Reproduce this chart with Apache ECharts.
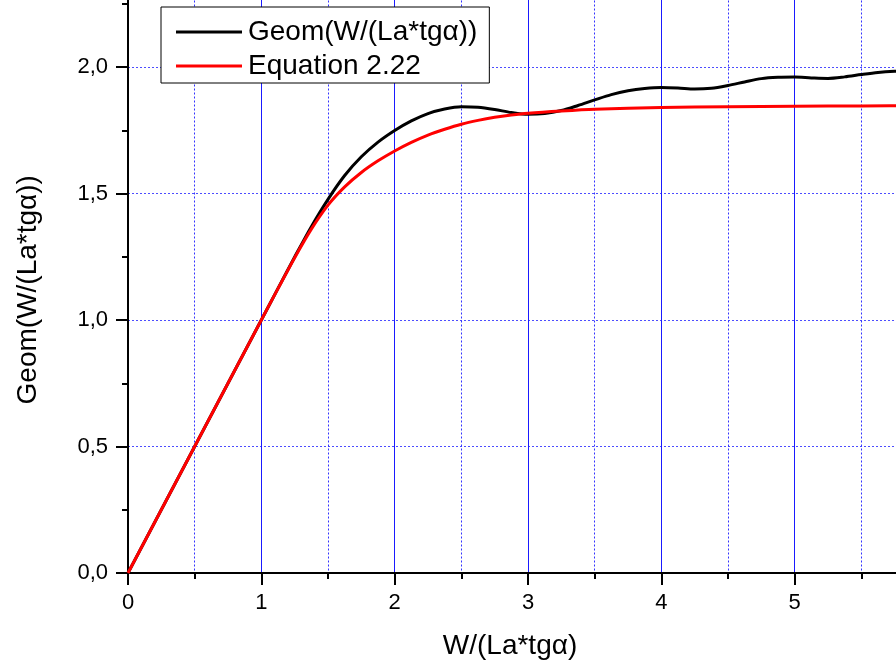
<!DOCTYPE html>
<html>
<head>
<meta charset="utf-8">
<script src="https://cdn.jsdelivr.net/npm/echarts@6/dist/echarts.min.js"></script>
<style>
html,body{margin:0;padding:0;background:#fff;}
#chart{width:896px;height:668px;}
</style>
</head>
<body>
<div id="chart"></div>
<script>
// Data
const geomX = [0, 0.5, 1.0, 1.125, 1.25, 1.375, 1.5, 1.625, 1.75, 1.875, 2.0, 2.125, 2.25, 2.375, 2.5, 2.625, 2.75, 2.875, 3.0, 3.125, 3.25, 3.375, 3.5, 3.625, 3.75, 3.875, 4.0, 4.125, 4.25, 4.375, 4.5, 4.625, 4.75, 4.875, 5.0, 5.125, 5.25, 5.375, 5.5, 5.625, 5.75, 6.0];
const geomY = [0, 0.5, 1.0, 1.125, 1.249, 1.369, 1.477, 1.571, 1.645, 1.703, 1.749, 1.787, 1.816, 1.834, 1.843, 1.841, 1.832, 1.820, 1.813, 1.816, 1.828, 1.848, 1.870, 1.891, 1.906, 1.915, 1.919, 1.917, 1.913, 1.916, 1.927, 1.941, 1.954, 1.959, 1.960, 1.957, 1.955, 1.961, 1.970, 1.978, 1.983, 1.990];
const eqX = [0, 0.5, 1.0, 1.125, 1.25, 1.375, 1.5, 1.625, 1.75, 1.875, 2.0, 2.125, 2.25, 2.375, 2.5, 2.625, 2.75, 2.875, 3.0, 3.25, 3.5, 4.0, 4.5, 5.0, 5.5, 6.0];
const eqY = [0, 0.5, 1.0, 1.124, 1.246, 1.359, 1.454, 1.526, 1.583, 1.629, 1.668, 1.702, 1.731, 1.754, 1.774, 1.789, 1.801, 1.810, 1.817, 1.826, 1.833, 1.840, 1.843, 1.845, 1.846, 1.847];
const seriesNames = ['Geom(W/(La*tgα))', 'Equation 2.22'];
const xTitle = 'W/(La*tgα)';
const yTitle = 'Geom(W/(La*tgα))';

const FONT = '"Liberation Sans", Arial, sans-serif';
const pairs = (xs, ys) => xs.map((x, i) => [x, ys[i]]);

const chart = echarts.init(document.getElementById('chart'), null, {renderer: 'canvas'});
chart.setOption({
  animation: false,
  backgroundColor: '#ffffff',
  grid: {left: 128, right: -32, top: -59.5, bottom: 95, containLabel: false, outerBoundsMode: 'none'},
  legend: {
    orient: 'vertical',
    left: 161, top: 7,
    padding: [11, 12, 3, 15],
    itemGap: 6,
    itemWidth: 66, itemHeight: 3,
    icon: 'rect',
    borderColor: '#000', borderWidth: 1,
    backgroundColor: '#fff',
    textStyle: {fontFamily: FONT, fontSize: 28, color: '#000', padding: [0, 0, 0, 1]},
    data: seriesNames
  },
  xAxis: {
    type: 'value', min: 0, max: 6, interval: 1,
    name: xTitle, nameLocation: 'middle', nameGap: 59,
    nameTextStyle: {fontFamily: FONT, fontSize: 28, color: '#000', padding: [0, 36, 0, 0]},
    axisLine: {show: true, onZero: false, lineStyle: {color: '#000', width: 2}},
    axisTick: {show: true, inside: false, length: 12, lineStyle: {color: '#000', width: 2}},
    minorTick: {show: true, splitNumber: 2, length: 6, lineStyle: {color: '#000', width: 2}},
    axisLabel: {fontFamily: FONT, fontSize: 22, color: '#000', margin: 19,
      formatter: v => String(Math.round(v))},
    splitLine: {show: true, lineStyle: {color: '#1a1aff', width: 1, type: 'solid'}},
    minorSplitLine: {show: true, lineStyle: {color: '#3333ff', width: 1, type: [2, 2]}}
  },
  yAxis: {
    type: 'value', min: 0, max: 2.5, interval: 0.5,
    name: yTitle, nameLocation: 'middle', nameGap: 86, nameRotate: 90,
    nameTextStyle: {fontFamily: FONT, fontSize: 28, color: '#000', padding: [0, 66, 0, 0]},
    axisLine: {show: true, onZero: false, lineStyle: {color: '#000', width: 2}},
    axisTick: {show: true, inside: false, length: 12, lineStyle: {color: '#000', width: 2}},
    minorTick: {show: true, splitNumber: 2, length: 6, lineStyle: {color: '#000', width: 2}},
    axisLabel: {fontFamily: FONT, fontSize: 22, color: '#000', margin: 20,
      formatter: v => v.toFixed(1).replace('.', ',')},
    splitLine: {show: true, lineStyle: {color: '#4d4dff', width: 1, type: [2, 2]}},
    minorSplitLine: {show: false}
  },
  series: [
    {
      name: seriesNames[0], type: 'line', data: pairs(geomX, geomY),
      smooth: 0.3, symbol: 'none', clip: true,
      lineStyle: {color: '#000000', width: 3}, itemStyle: {color: '#000000'}, z: 3
    },
    {
      name: seriesNames[1], type: 'line', data: pairs(eqX, eqY),
      smooth: 0.3, symbol: 'none', clip: true,
      lineStyle: {color: '#ff0000', width: 3}, itemStyle: {color: '#ff0000'}, z: 4
    }
  ]
});
</script>
</body>
</html>
